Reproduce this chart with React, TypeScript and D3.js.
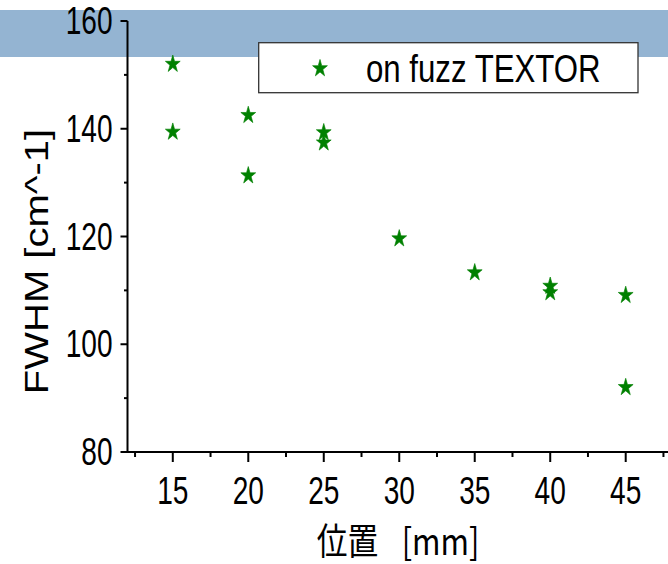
import React from "react";
import * as d3 from "d3";

const positions = [15, 15, 20, 20, 25, 25, 30, 35, 40, 40, 45, 45];
const fwhm = [152.0, 139.4, 142.5, 131.3, 139.3, 137.4, 119.6, 113.3, 110.8, 109.6, 109.1, 92.0];
const xTicks = [15, 20, 25, 30, 35, 40, 45];
const xMinor = [12.5, 17.5, 22.5, 27.5, 32.5, 37.5, 42.5, 47.5];
const yTicks = [80, 100, 120, 140, 160];
const yMinor = [90, 110, 130, 150];
const legendLabel = "on fuzz TEXTOR";
const xTitleMain = "位置";
const xTitleUnit = "[mm]";
const yTitle = "FWHM [cm^-1]";

const W = 668;
const H = 564;
const sans = "'Liberation Sans', Arial, sans-serif";
const cjk = "'Noto Sans CJK JP', 'Noto Sans CJK SC', sans-serif";

export default function App() {
  const x = d3.scaleLinear().domain([12, 48]).range([127.5, 671]);
  const y = d3.scaleLinear().domain([80, 160]).range([452, 21]);
  const star = d3.symbol().type(d3.symbolStar).size(92)() as string;
  const green = "#008000";
  const axisY = y(80);
  const axisX = x(12);

  return (
    <svg width={W} height={H} style={{ position: "absolute", left: 0, top: 0, background: "#fff" }}>
      <rect x={0} y={10} width={W} height={47} fill="#94B4D2" />
      {/* axes */}
      <line x1={axisX} x2={x(48)} y1={axisY} y2={axisY} stroke="#000" strokeWidth={2} />
      <line x1={axisX} x2={axisX} y1={y(160)} y2={axisY + 1} stroke="#000" strokeWidth={2} />
      {xTicks.map((t) => (
        <g key={"xt" + t}>
          <line x1={x(t)} x2={x(t)} y1={axisY} y2={axisY + 10} stroke="#000" strokeWidth={2} />
          <text
            transform={`translate(${x(t)},${504}) scale(0.72,1)`}
            textAnchor="middle"
            fontFamily={sans}
            fontSize={39}
            fill="#000"
          >
            {t}
          </text>
        </g>
      ))}
      {xMinor.map((t) => (
        <line key={"xm" + t} x1={x(t)} x2={x(t)} y1={axisY} y2={axisY + 5} stroke="#000" strokeWidth={2} />
      ))}
      {yTicks.map((t) => (
        <g key={"yt" + t}>
          <line x1={axisX - 7} x2={axisX} y1={y(t)} y2={y(t)} stroke="#000" strokeWidth={2} />
          <text
            transform={`translate(${112.5},${y(t) + 13}) scale(0.72,1)`}
            textAnchor="end"
            fontFamily={sans}
            fontSize={39}
            fill="#000"
          >
            {t}
          </text>
        </g>
      ))}
      {yMinor.map((t) => (
        <line key={"ym" + t} x1={axisX - 3.5} x2={axisX} y1={y(t)} y2={y(t)} stroke="#000" strokeWidth={2} />
      ))}
      {/* points */}
      {positions.map((p, i) => (
        <path
          key={"p" + i}
          d={star}
          transform={`translate(${x(p)},${y(fwhm[i])}) scale(0.86,1)`}
          fill={green}
          stroke={green}
          strokeWidth={0.7}
        />
      ))}
      {/* legend */}
      <rect x={258.7} y={42.7} width={379.3} height={50} fill="#fff" stroke="#333" strokeWidth={1.3} />
      <path
        d={star}
        transform="translate(320,68.5) scale(0.86,1)"
        fill={green}
        stroke={green}
        strokeWidth={0.7}
      />
      <text transform="translate(366,82) scale(0.8,1)" fontFamily={sans} fontSize={39} fill="#000">
        {legendLabel}
      </text>
      {/* titles */}
      <text
        transform="translate(398,555) scale(0.83,1)"
        textAnchor="middle"
        fontFamily={cjk}
        fontSize={37}
        fill="#000"
      >
        {xTitleMain + " "}
        <tspan dx={20}>{xTitleUnit}</tspan>
      </text>
      <text
        transform="translate(48,261.5) scale(0.83,1) rotate(-90)"
        textAnchor="middle"
        fontFamily={sans}
        fontSize={40}
        fill="#000"
      >
        {yTitle}
      </text>
    </svg>
  );
}
